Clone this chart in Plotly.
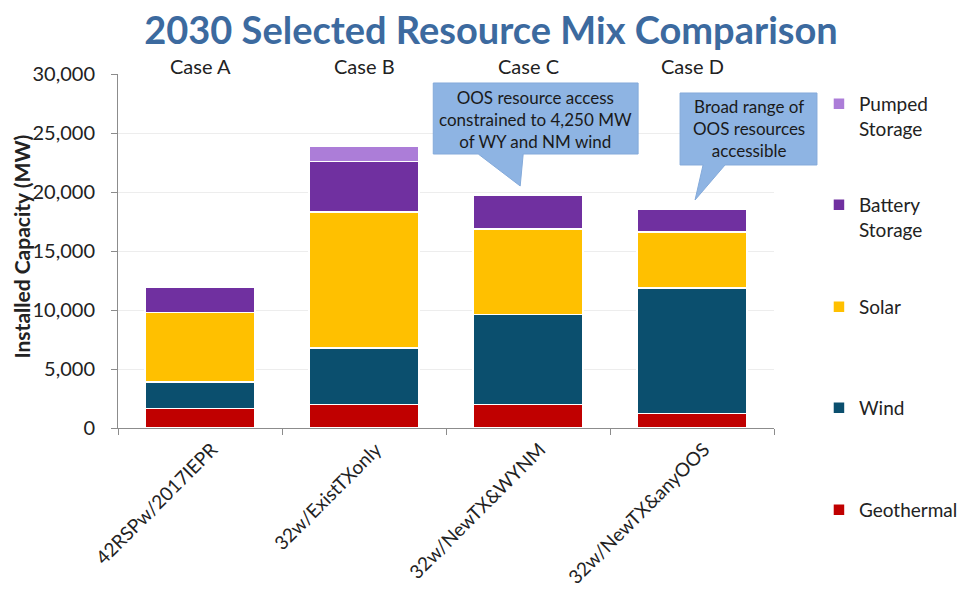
import plotly.graph_objects as go

# ---- data ----
scenarios = ["42RSPw/2017IEPR", "32w/ExistTXonly", "32w/NewTX&WYNM", "32w/NewTX&anyOOS"]
case_labels = ["Case A", "Case B", "Case C", "Case D"]
geothermal = [1650, 2000, 2000, 1250]
wind = [2250, 4800, 7600, 10600]
solar = [5900, 11500, 7250, 4750]
battery = [2150, 4300, 2850, 1900]
pumped = [0, 1300, 0, 0]
y_ticks = [0, 5000, 10000, 15000, 20000, 25000, 30000]

series = [
    ("Geothermal", geothermal, "#C00000"),
    ("Wind", wind, "#0B4F6E"),
    ("Solar", solar, "#FFC000"),
    ("Battery<br>Storage", battery, "#7030A0"),
    ("Pumped<br>Storage", pumped, "#AC7DD8"),
]

FONT = "Lato"
OFF = 8  # browser body margin
W, H = 967 - OFF, 590 - OFF
PL, PR, PT, PB = 117.5, 774, 74, 428  # plot area in page pixels
L, R, T, B = PL - OFF, 967 - PR, PT - OFF, 590 - PB
PW, PH = PR - PL, PB - PT


def px(x):
    return (x - PL) / PW


def py(y):
    return (PB - y) / PH


fig = go.Figure()
legend_names = ["legend5", "legend4", "legend3", "legend2", "legend"]
legend_tops = [510, 408, 307, 205, 104]  # first-line centre, px
for (name, vals, col), lg in zip(series, legend_names):
    fig.add_trace(go.Bar(
        x=scenarios, y=vals, name=name, legend=lg,
        marker=dict(color=col, line=dict(color="white", width=1.5)),
    ))

layout_legends = {}
for lg, top in zip(legend_names, legend_tops):
    layout_legends[lg] = dict(
        x=px(819), xanchor="left", y=py(top - 19), yanchor="top",
        font=dict(family=FONT, size=19, color="#222222"),
        bgcolor="rgba(0,0,0,0)", valign="top", itemwidth=30,
    )

fig.update_layout(
    width=W, height=H,
    margin=dict(l=L, r=R, t=T, b=B, autoexpand=False),
    paper_bgcolor="white", plot_bgcolor="white",
    barmode="stack", bargap=0.33,
    showlegend=True,
    font=dict(family=FONT, color="#222222"),
    title=dict(
        text="<b>2030 Selected Resource Mix Comparison</b>",
        x=(491 - OFF) / W, xanchor="center", y=1 - (31 - OFF) / H, yanchor="middle",
        font=dict(family=FONT, size=38, color="#3C6A9F"),
    ),
    xaxis=dict(
        type="category", showline=True, linecolor="#8C8C8C", linewidth=1,
        ticks="outside", tickson="boundaries", ticklen=6, tickcolor="#8C8C8C",
        tickangle=-45, tickfont=dict(family=FONT, size=19, color="#222222"),
        ticklabelshift=12, ticklabelstandoff=2, showgrid=False, automargin=False,
    ),
    yaxis=dict(
        range=[0, 30000], tickvals=y_ticks, tickformat=",",
        showline=True, linecolor="#8C8C8C", linewidth=1,
        ticks="outside", ticklen=6, tickcolor="#8C8C8C",
        tickfont=dict(family=FONT, size=20, color="#222222"),
        ticklabelstandoff=12, automargin=False,
        showgrid=True, gridcolor="#EDEDED", zeroline=False,
    ),
    **layout_legends,
)

# y axis title
fig.add_annotation(
    text="<b>Installed Capacity (MW)</b>", textangle=-90,
    xref="paper", yref="paper", x=px(20), y=py(247),
    xanchor="center", yanchor="middle", showarrow=False,
    font=dict(family=FONT, size=21, color="#222222"),
)

# case labels
for cat, lab in zip(scenarios, case_labels):
    fig.add_annotation(
        text=lab, x=cat, xref="x", yref="paper", y=py(66),
        showarrow=False, yanchor="middle",
        font=dict(family=FONT, size=20, color="#222222"),
    )


def callout(box, base, tip):
    x0, y0, x1, y1 = box
    bx0, bx1 = base
    tx, ty = tip
    pts = [(x0, y0), (x1, y0), (x1, y1), (bx1, y1), (tx, ty), (bx0, y1), (x0, y1)]
    path = "M " + " L ".join(f"{px(a):.5f},{py(b):.5f}" for a, b in pts) + " Z"
    fig.add_shape(type="path", path=path, xref="paper", yref="paper",
                  fillcolor="#8EB4E3", line=dict(color="#84AADA", width=1), layer="above")


callout((433, 83, 638, 154), (478, 523), (520, 186))
callout((680, 93, 817, 165), (703, 725), (695, 200))

fig.add_annotation(
    text="OOS resource access<br>constrained to 4,250 MW<br>of WY and NM wind",
    xref="paper", yref="paper", x=px(535.5), y=py(119), showarrow=False,
    xanchor="center", yanchor="middle", align="center",
    font=dict(family=FONT, size=17, color="#1A1A1A"),
)
fig.add_annotation(
    text="Broad range of<br>OOS resources<br>accessible",
    xref="paper", yref="paper", x=px(748.5), y=py(128), showarrow=False,
    xanchor="center", yanchor="middle", align="center",
    font=dict(family=FONT, size=17, color="#1A1A1A"),
)

fig.write_html("out.html")
